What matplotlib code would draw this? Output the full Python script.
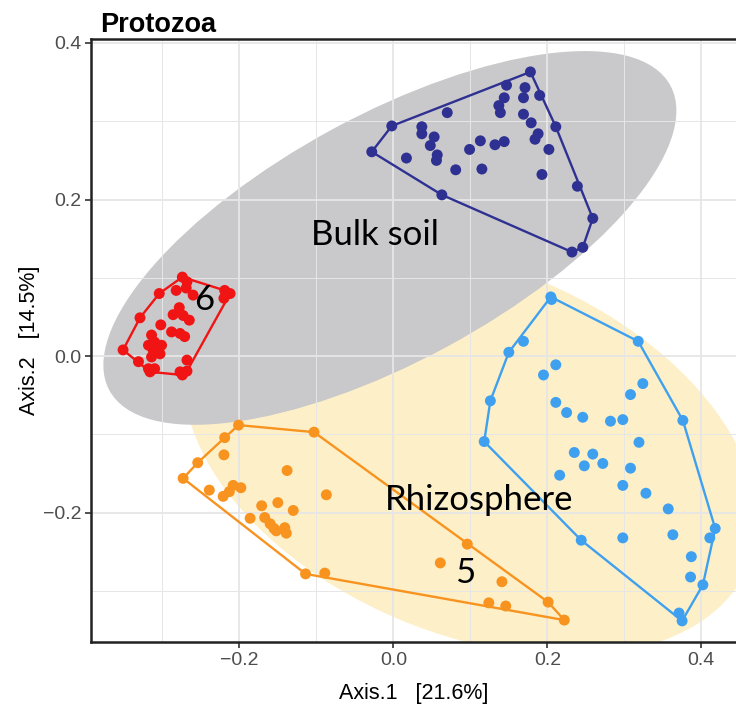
import numpy as np
import matplotlib
matplotlib.use("Agg")
import matplotlib.pyplot as plt
from matplotlib.patches import Ellipse

# group 6 (bulk soil, red)
red_x = [-0.274, -0.268, -0.269, -0.282, -0.304, -0.260, -0.219, -0.212, -0.220, -0.278,
         -0.286, -0.273, -0.265, -0.329, -0.302, -0.288, -0.277, -0.271, -0.314, -0.310,
         -0.318, -0.301, -0.312, -0.351, -0.303, -0.314, -0.331, -0.268, -0.318, -0.310,
         -0.277, -0.268, -0.274, -0.316]
red_y = [0.101, 0.095, 0.087, 0.084, 0.080, 0.078, 0.084, 0.080, 0.074, 0.062,
         0.053, 0.052, 0.046, 0.049, 0.040, 0.031, 0.029, 0.025, 0.027, 0.018,
         0.014, 0.014, 0.008, 0.008, 0.003, -0.001, -0.007, -0.005, -0.016, -0.016,
         -0.020, -0.019, -0.024, -0.020]

# bulk soil, navy
navy_x = [0.178, 0.147, 0.171, 0.169, 0.144, 0.190, 0.137, 0.139, 0.070, 0.169,
          0.179, 0.211, -0.002, 0.037, 0.037, 0.053, 0.188, 0.184, 0.113, 0.144,
          0.132, 0.048, 0.202, 0.099, -0.028, 0.057, 0.056, 0.017, 0.081, 0.115,
          0.193, 0.239, 0.063, 0.259, 0.246, 0.232]
navy_y = [0.363, 0.346, 0.343, 0.330, 0.330, 0.333, 0.320, 0.311, 0.311, 0.309,
          0.298, 0.293, 0.294, 0.293, 0.284, 0.280, 0.284, 0.277, 0.275, 0.274,
          0.270, 0.269, 0.264, 0.264, 0.261, 0.257, 0.250, 0.253, 0.238, 0.239,
          0.232, 0.217, 0.206, 0.176, 0.139, 0.133]

# group 5 (rhizosphere, orange)
orange_x = [-0.201, -0.103, -0.219, -0.220, -0.254, -0.273, -0.138, -0.087, -0.239, -0.208,
            -0.198, -0.213, -0.221, -0.150, -0.171, -0.130, -0.186, -0.167, -0.160, -0.155,
            -0.141, -0.152, -0.139, -0.114, -0.089, 0.096, 0.061, 0.141, 0.124, 0.146,
            0.201, 0.222]
orange_y = [-0.088, -0.097, -0.104, -0.126, -0.136, -0.156, -0.146, -0.177, -0.171, -0.165,
            -0.168, -0.173, -0.179, -0.187, -0.191, -0.197, -0.207, -0.206, -0.214, -0.220,
            -0.219, -0.223, -0.226, -0.278, -0.277, -0.240, -0.264, -0.288, -0.315, -0.319,
            -0.314, -0.337]

# rhizosphere, blue
blue_x = [0.2045, 0.2055, 0.318, 0.169, 0.150, 0.211, 0.195, 0.324, 0.308, 0.126,
          0.211, 0.225, 0.246, 0.282, 0.298, 0.376, 0.118, 0.319, 0.235, 0.259,
          0.248, 0.272, 0.308, 0.216, 0.298, 0.328, 0.357, 0.418, 0.411, 0.363,
          0.244, 0.298, 0.387, 0.386, 0.402, 0.371, 0.375]
blue_y = [0.0757, 0.0724, 0.019, 0.019, 0.005, -0.011, -0.024, -0.035, -0.049, -0.057,
          -0.059, -0.072, -0.078, -0.083, -0.081, -0.082, -0.109, -0.110, -0.123, -0.125,
          -0.140, -0.137, -0.143, -0.152, -0.165, -0.175, -0.195, -0.220, -0.232, -0.228,
          -0.235, -0.232, -0.256, -0.282, -0.292, -0.328, -0.338]

# ellipses: centre x, centre y, width, height, angle
bulk_ellipse = (-0.0045, 0.151, 0.826, 0.315, 28)
rhizo_ellipse = (0.100, -0.120, 0.78, 0.47, -22)


def convex_hull(xs, ys):
    pts = sorted(set(zip(xs, ys)))

    def cross(o, a, b):
        return (a[0] - o[0]) * (b[1] - o[1]) - (a[1] - o[1]) * (b[0] - o[0])

    lower = []
    for p in pts:
        while len(lower) >= 2 and cross(lower[-2], lower[-1], p) <= 0:
            lower.pop()
        lower.append(p)
    upper = []
    for p in reversed(pts):
        while len(upper) >= 2 and cross(upper[-2], upper[-1], p) <= 0:
            upper.pop()
        upper.append(p)
    h = lower[:-1] + upper[:-1]
    h.append(h[0])
    return np.array(h)


fig = plt.figure(figsize=(7.36, 7.2), dpi=100)
ax = fig.add_axes([0.1243, 0.1083, 0.8757, 0.8375])

ax.add_patch(Ellipse(rhizo_ellipse[:2], rhizo_ellipse[2], rhizo_ellipse[3], angle=rhizo_ellipse[4],
                     facecolor='#fdf0c8', edgecolor='none', zorder=0.1))
ax.add_patch(Ellipse(bulk_ellipse[:2], bulk_ellipse[2], bulk_ellipse[3], angle=bulk_ellipse[4],
                     facecolor='#c9c8ca', edgecolor='none', zorder=0.2))

groups = [(red_x, red_y, '#f01414'), (navy_x, navy_y, '#2e3192'),
          (orange_x, orange_y, '#f7931e'), (blue_x, blue_y, '#3fa0f0')]
for gx, gy, col in groups:
    h = convex_hull(gx, gy)
    ax.plot(h[:, 0], h[:, 1], color=col, lw=1.7, zorder=2)
    ax.scatter(gx, gy, s=62, color=col, edgecolor='none', zorder=3)

lab_font = dict(family='Lato', fontsize=25, color='black', zorder=4)
ax.text(-0.024, 0.155, 'Bulk soil', ha='center', va='center', **lab_font)
ax.text(0.112, -0.184, 'Rhizosphere', ha='center', va='center', **lab_font)
ax.text(-0.245, 0.0715, '6', ha='center', va='center', **lab_font)
ax.text(0.093, -0.277, '5', ha='center', va='center', **lab_font)

ax.set_xlim(-0.392, 0.445)
ax.set_ylim(-0.365, 0.405)
ax.set_xticks([-0.2, 0.0, 0.2, 0.4])
ax.set_yticks([-0.2, 0.0, 0.2, 0.4])
ax.set_xticks([-0.3, -0.1, 0.1, 0.3], minor=True)
ax.set_yticks([-0.3, -0.1, 0.1, 0.3], minor=True)
ax.set_xticklabels(['\u22120.2', '0.0', '0.2', '0.4'])
ax.set_yticklabels(['\u22120.2', '0.0', '0.2', '0.4'])

ax.set_axisbelow(True)
ax.grid(which='major', color='#e6e6e6', lw=1.3)
ax.grid(which='minor', color='#e6e6e6', lw=0.7)
ax.tick_params(which='major', length=4, width=1.2, color='#333333', labelsize=14,
               labelcolor='#4d4d4d', pad=3)
ax.tick_params(which='minor', length=0)
for lab in ax.get_xticklabels() + ax.get_yticklabels():
    lab.set_family('Liberation Sans')

for side in ['left', 'bottom', 'top']:
    ax.spines[side].set_linewidth(1.8)
    ax.spines[side].set_color('#222222')
ax.spines['right'].set_visible(False)

ax.set_xlabel('Axis.1   [21.6%]', family='Liberation Sans', fontsize=15.5, labelpad=10)
ax.set_ylabel('Axis.2   [14.5%]', family='Liberation Sans', fontsize=15.5, labelpad=2)
ax.text(0.013, 1.0116, 'Protozoa', transform=ax.transAxes, family='Liberation Sans',
        fontweight='bold', fontsize=19.5, va='baseline', ha='left')

fig.savefig('out.png', dpi=100)
